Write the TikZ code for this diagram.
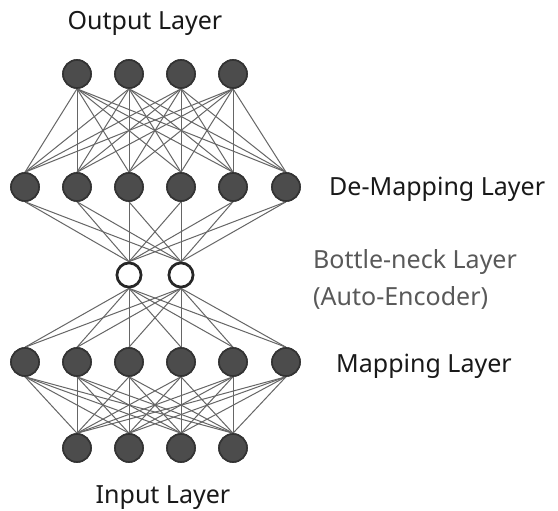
\documentclass[tikz,border=0pt]{standalone}
\usepackage{fontspec}
\setmainfont{Noto Sans}
\begin{document}
\begin{tikzpicture}[x=1pt,y=-1pt,
  neuron/.style={circle,draw=black!80,line width=1.6pt,fill=black!70,minimum size=28pt,inner sep=0pt},
  bneck/.style={circle,draw=black!85,line width=2.6pt,fill=white,minimum size=24pt,inner sep=0pt},
  link/.style={draw=black!60,line width=1pt},
  lbl/.style={font=\fontsize{25}{37}\selectfont,text=black!90,inner sep=0pt},
  glbl/.style={font=\fontsize{25}{37}\selectfont,text=black!65,inner sep=0pt,align=left}]
\useasboundingbox[fill=white] (0,0) rectangle (558,511);
% nodes (placed first so links can use their anchors)
\foreach \i/\x in {1/77,2/129,3/181,4/233}{
  \node[neuron] (o\i) at (\x,74) {};
  \node[neuron] (in\i) at (\x,448) {};
}
\foreach \i/\x in {1/25,2/77,3/129,4/181,5/233,6/286}{
  \node[neuron] (d\i) at (\x,187) {};
  \node[neuron] (m\i) at (\x,362) {};
}
\node[bneck] (b1) at (129,275) {};
\node[bneck] (b2) at (181,275) {};
% links
\foreach \i in {1,...,4}{\foreach \j in {1,...,6}{
  \draw[link] (o\i.south) -- (d\j.north);
  \draw[link] (m\j.south) -- (in\i.north);
}}
\foreach \i in {1,2}{\foreach \j in {1,...,6}{
  \draw[link] (d\j.south) -- (b\i.north);
  \draw[link] (b\i.south) -- (m\j.north);
}}
% redraw nodes on top of the links
\foreach \i/\x in {1/77,2/129,3/181,4/233}{
  \node[neuron] at (\x,74) {};
  \node[neuron] at (\x,448) {};
}
\foreach \i/\x in {1/25,2/77,3/129,4/181,5/233,6/286}{
  \node[neuron] at (\x,187) {};
  \node[neuron] at (\x,362) {};
}
\node[bneck] at (129,275) {};
\node[bneck] at (181,275) {};
% labels
\node[lbl] (tout) at (145,23) {Output Layer};
\node[lbl,anchor=west] (tdem) at (329,189) {De-Mapping Layer};
\node[glbl,anchor=west] (tbn) at (313,279) {Bottle-neck Layer\\(Auto-Encoder)};
\node[lbl,anchor=west] (tmap) at (336,366) {Mapping Layer};
\node[lbl] (tin) at (163,498) {Input Layer};
\end{tikzpicture}
\end{document}
